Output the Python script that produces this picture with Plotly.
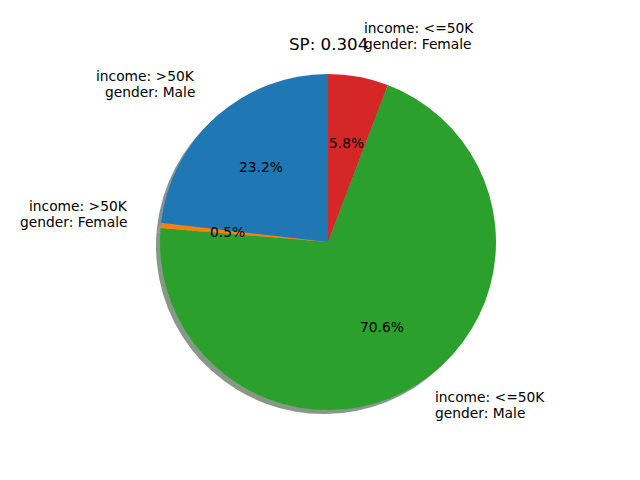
import math
import plotly.graph_objects as go

# ---- data ----
labels = ["income: >50K<br>gender: Male", "income: >50K<br>gender: Female",
          "income: <=50K<br>gender: Male", "income: <=50K<br>gender: Female"]
shares = [23.2, 0.5, 70.6, 5.8]
colors = ["#1f77b4", "#ff7f0e", "#2ca02c", "#d62728"]
title_text = "SP: 0.304"

# ---- layout geometry (pixels) ----
W, H = 640, 480
CX, CY, R = 328, 242, 168
SH = 4  # shadow offset


def shadow_color(hexc):
    r, g, b = (int(hexc[i:i + 2], 16) for i in (1, 3, 5))
    f = lambda c: int(round(0.3 * c * 0.5 + 255 * 0.5))
    return "#%02x%02x%02x" % (f(r), f(g), f(b))


def dom(cx, cy):
    return dict(x=[(cx - R) / W, (cx + R) / W],
                y=[1 - (cy + R) / H, 1 - (cy - R) / H])


# matplotlib draws counterclockwise from 12 o'clock; plotly clockwise with reversed order
rev_vals = shares[::-1]
rev_labels = labels[::-1]
rev_colors = colors[::-1]

fig = go.Figure()
fig.add_trace(go.Pie(values=rev_vals, sort=False, direction="clockwise",
                     rotation=0, marker=dict(colors=[shadow_color(c) for c in rev_colors],
                                             line=dict(width=0)),
                     textinfo="none", hoverinfo="skip", showlegend=False,
                     domain=dom(CX - SH, CY + SH)))
fig.add_trace(go.Pie(values=rev_vals, labels=rev_labels, sort=False, direction="clockwise",
                     rotation=0, marker=dict(colors=rev_colors, line=dict(width=0)),
                     textinfo="none", showlegend=False, domain=dom(CX, CY)))

FONT = dict(family="DejaVu Sans", size=13.8, color="black")
total = sum(shares)
start = 90.0
for lab, v in zip(labels, shares):
    span = v / total * 360
    mid = math.radians(start + span / 2)
    start += span
    # percentage at 0.6 radius
    px = CX + 0.6 * R * math.cos(mid)
    py = CY - 0.6 * R * math.sin(mid)
    fig.add_annotation(x=px / W, y=1 - py / H, xref="paper", yref="paper",
                       text="%.1f%%" % v, showarrow=False,
                       xanchor="center", yanchor="middle", font=FONT)
    # label at 1.2 radius, two lines
    right = math.cos(mid) > 0
    lx = CX + 1.2 * R * math.cos(mid) + (-2 if right else 3)
    ly = CY - 1.2 * R * math.sin(mid)
    for k, line in enumerate(lab.split("<br>")):
        yy = ly - 16 + 16 * k
        fig.add_annotation(x=lx / W, y=1 - yy / H, xref="paper", yref="paper",
                           text=line, showarrow=False,
                           xanchor="left" if right else "right",
                           yanchor="middle", font=FONT)

fig.add_annotation(x=CX / W, y=1 - 52 / H, xref="paper", yref="paper",
                   text=title_text, showarrow=False, xanchor="center", yanchor="bottom",
                   yshift=-4, font=dict(family="DejaVu Sans", size=16.7, color="black"))

fig.update_layout(width=W, height=H, margin=dict(l=0, r=0, t=0, b=0),
                  paper_bgcolor="white", plot_bgcolor="white")
fig.write_html("out.html", config={"displayModeBar": False},
               post_script="document.body.style.margin='0';document.body.style.padding='0';")
